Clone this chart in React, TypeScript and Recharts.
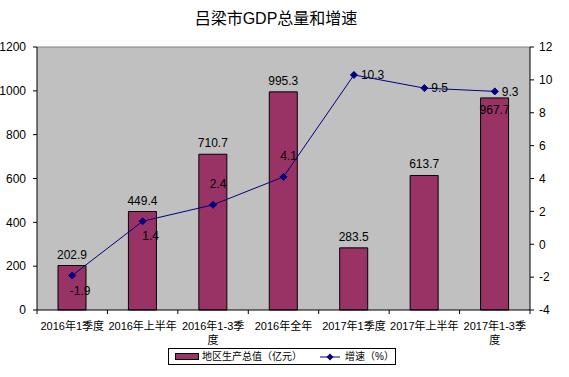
import React from 'react';
import { ComposedChart, Bar, Line, XAxis, YAxis, CartesianGrid, LabelList, ReferenceLine } from 'recharts';

const periods = [
  '2016年1季度',
  '2016年上半年',
  '2016年1-3季度',
  '2016年全年',
  '2017年1季度',
  '2017年上半年',
  '2017年1-3季度'
];
const gdpValues = [202.9, 449.4, 710.7, 995.3, 283.5, 613.7, 967.7];
const growthRates = [-1.9, 1.4, 2.4, 4.1, 10.3, 9.5, 9.3];
const gdpTicks = [0, 200, 400, 600, 800, 1000, 1200];
const rateTicks = [-4, -2, 0, 2, 4, 6, 8, 10, 12];

// where each growth label sits relative to its point (style only)
const rateLabelSide = ['below', 'below', 'above', 'above', 'right', 'right', 'right'];
const gdpLabelSide = ['top', 'top', 'top', 'top', 'top', 'top', 'inside'];

const BAR_COLOR = '#993366';
const LINE_COLOR = '#000080';
const NUM_FONT = '"Liberation Sans", Arial, "Noto Sans CJK SC", sans-serif';
const CJK_FONT = '"Liberation Sans", "Noto Sans CJK SC", sans-serif';

const W = 569;
const H = 377;
const PLOT_LEFT = 37;
const PLOT_RIGHT = 530;
const PLOT_TOP = 47;
const PLOT_BOTTOM = 310;
const BAND = (PLOT_RIGHT - PLOT_LEFT) / periods.length;

const data = periods.map((p, i) => ({ period: p, gdp: gdpValues[i], rate: growthRates[i] }));

function charWidth(ch: string) {
  return /[\u3000-\u9fff\uff00-\uffef]/.test(ch) ? 11 : 6.1;
}

function wrapLabel(text: string, max = 70) {
  const lines: string[] = [];
  let cur = '';
  let w = 0;
  for (const ch of text) {
    const cw = charWidth(ch);
    if (w + cw > max && cur) {
      lines.push(cur);
      cur = '';
      w = 0;
    }
    cur += ch;
    w += cw;
  }
  if (cur) lines.push(cur);
  return lines;
}

function PeriodTick(props: any) {
  const { x, y, payload, index } = props;
  const lines = wrapLabel(String(payload.value));
  return (
    <g>
      <line x1={x - BAND / 2} x2={x - BAND / 2} y1={y} y2={y + 4} stroke="#000" />
      {index === periods.length - 1 && (
        <line x1={x + BAND / 2} x2={x + BAND / 2} y1={y} y2={y + 4} stroke="#000" />
      )}
      {lines.map((l, i) => (
        <text
          key={i}
          x={x}
          y={y + 20 + i * 14}
          textAnchor="middle"
          fontSize={11}
          fontFamily={CJK_FONT}
          fill="#000"
        >
          {l}
        </text>
      ))}
    </g>
  );
}

function GdpLabel(props: any) {
  const { x, y, width, value, index } = props;
  const cx = x + width / 2;
  const inside = gdpLabelSide[index] === 'inside';
  return (
    <text
      x={cx}
      y={inside ? y + 16 : y - 7}
      textAnchor="middle"
      fontSize={12}
      fontFamily={NUM_FONT}
      fill="#000"
    >
      {value}
    </text>
  );
}

function RateLabel(props: any) {
  const { x, y, value, index } = props;
  const side = rateLabelSide[index];
  let tx = x;
  let ty = y;
  let anchor: 'start' | 'middle' = 'middle';
  if (side === 'below') {
    tx = x + 8;
    ty = y + 15;
  } else if (side === 'above') {
    tx = x + 5;
    ty = y - 21;
  } else {
    tx = x + 7;
    anchor = 'start';
  }
  return (
    <text
      x={tx}
      y={ty}
      dy="0.35em"
      textAnchor={anchor}
      fontSize={12}
      fontFamily={NUM_FONT}
      fill="#000"
    >
      {value}
    </text>
  );
}

function Diamond(props: any) {
  const { cx, cy } = props;
  if (cx == null || cy == null) return null;
  const r = 3.5;
  return (
    <path
      d={`M${cx},${cy - r}L${cx + r},${cy}L${cx},${cy + r}L${cx - r},${cy}Z`}
      fill={LINE_COLOR}
      stroke={LINE_COLOR}
    />
  );
}

export default function App() {
  return (
    <div style={{ position: 'absolute', left: 0, top: 0, width: W, height: H, background: '#fff' }}>
      <div
        style={{
          position: 'absolute',
          left: 0,
          top: 5,
          width: 552,
          textAlign: 'center',
          fontSize: 16,
          fontFamily: CJK_FONT,
          color: '#000'
        }}
      >
        吕梁市GDP总量和增速
      </div>
      <ComposedChart
        width={W}
        height={H}
        data={data}
        margin={{ top: PLOT_TOP, right: 0, left: 0, bottom: 0 }}
        barSize={28}
      >
        <CartesianGrid fill="#C0C0C0" horizontal={false} vertical={false} />
        <XAxis
          dataKey="period"
          height={H - PLOT_BOTTOM}
          tickLine={false}
          tickSize={0}
          tickMargin={0}
          axisLine={{ stroke: '#000' }}
          interval={0}
          tick={<PeriodTick />}
        />
        <YAxis
          yAxisId="left"
          width={PLOT_LEFT}
          domain={[0, 1200]}
          ticks={gdpTicks}
          tickSize={4}
          tickMargin={7}
          axisLine={{ stroke: '#000' }}
          tickLine={{ stroke: '#000' }}
          tick={{ fill: '#000', fontSize: 12, fontFamily: NUM_FONT }}
          interval={0}
        />
        <YAxis
          yAxisId="right"
          orientation="right"
          width={W - PLOT_RIGHT}
          domain={[-4, 12]}
          ticks={rateTicks}
          tickSize={4}
          tickMargin={5}
          axisLine={{ stroke: '#000' }}
          tickLine={{ stroke: '#000' }}
          tick={{ fill: '#000', fontSize: 12, fontFamily: NUM_FONT, textAnchor: 'start' }}
          interval={0}
        />
        <ReferenceLine yAxisId="left" y={1200} stroke="#808080" />
        <Bar
          yAxisId="left"
          dataKey="gdp"
          fill={BAR_COLOR}
          stroke="#000"
          strokeWidth={1}
          isAnimationActive={false}
        >
          <LabelList dataKey="gdp" content={<GdpLabel />} />
        </Bar>
        <Line
          yAxisId="right"
          dataKey="rate"
          stroke={LINE_COLOR}
          strokeWidth={1}
          dot={<Diamond />}
          activeDot={false}
          isAnimationActive={false}
        >
          <LabelList dataKey="rate" content={<RateLabel />} />
        </Line>
      </ComposedChart>
      <div
        style={{
          position: 'absolute',
          left: 168,
          top: 348,
          width: 226,
          height: 15,
          border: '1px solid #000',
          display: 'flex',
          alignItems: 'center',
          fontSize: 10,
          lineHeight: '15px',
          whiteSpace: 'nowrap',
          fontFamily: CJK_FONT,
          color: '#000',
          background: '#fff'
        }}
      >
        <span
          style={{
            display: 'inline-block',
            flexShrink: 0,
            width: 22,
            height: 5,
            marginLeft: 6,
            marginRight: 3,
            background: BAR_COLOR,
            border: '1px solid #000'
          }}
        />
        <span style={{ flexShrink: 0 }}>地区生产总值（亿元）</span>
        <svg width={20} height={10} style={{ flexShrink: 0, marginLeft: 18, marginRight: 5 }}>
          <line x1={0} x2={20} y1={5} y2={5} stroke={LINE_COLOR} />
          <path d="M10,1.5L13.5,5L10,8.5L6.5,5Z" fill={LINE_COLOR} />
        </svg>
        <span style={{ flexShrink: 0 }}>增速（%）</span>
      </div>
    </div>
  );
}
